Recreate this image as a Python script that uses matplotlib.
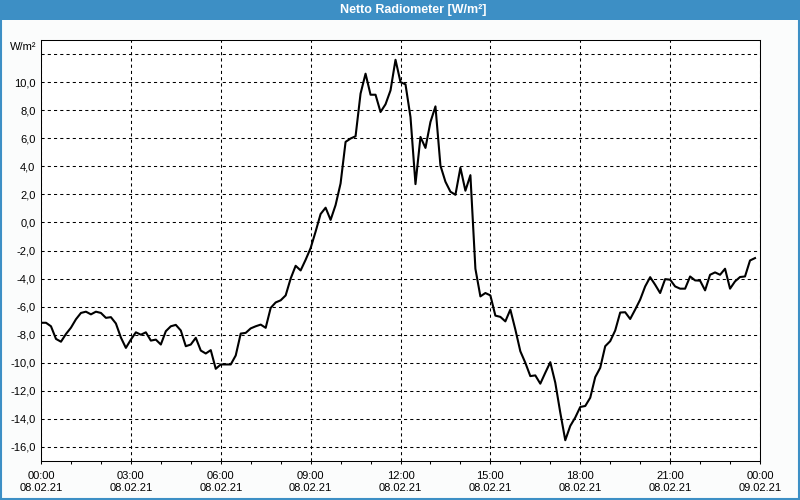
import pandas as pd
import matplotlib
matplotlib.use("Agg")
import matplotlib.pyplot as plt
import matplotlib.dates as mdates
import matplotlib.ticker as mticker
from matplotlib.patches import Rectangle

# =============================================================================
#  Données (lecture du graphique, pas de 10 min)
# =============================================================================

TITLE = "Netto Radiometer [W/m²]"
UNIT = "W/m²"
START = "2021-02-08 00:00"
END = "2021-02-09 00:00"
STEP = "10min"

VALUES = [
    -7.15, -7.15, -7.4, -8.3, -8.5, -7.95, -7.5, -6.9, -6.45, -6.36,
    -6.55, -6.36, -6.45, -6.8, -6.75, -7.2, -8.2, -8.94, -8.35, -7.83,
    -8.0, -7.83, -8.42, -8.35, -8.7, -7.75, -7.4, -7.3, -7.7, -8.82,
    -8.7, -8.22, -9.13, -9.34, -9.1, -10.43, -10.12, -10.12, -10.12, -9.48,
    -7.92, -7.87, -7.55, -7.4, -7.28, -7.51, -6.09, -5.7, -5.55, -5.2,
    -4.0, -3.09, -3.42, -2.66, -1.83, -0.65, 0.6, 1.05, 0.18, 1.24,
    2.78, 5.74, 5.98, 6.14, 9.18, 10.6, 9.1, 9.1, 7.87, 8.42,
    9.41, 11.59, 10.0, 9.84, 7.51, 2.73, 6.09, 5.31, 7.16, 8.27,
    4.05, 2.9, 2.19, 1.97, 3.9, 2.26, 3.37, -3.3, -5.27, -5.03,
    -5.2, -6.64, -6.73, -7.05, -6.21, -7.63, -9.18, -10.0, -10.95, -10.9,
    -11.49, -10.71, -9.96, -11.42, -13.55, -15.52, -14.5, -13.9, -13.15, -13.08,
    -12.49, -11.02, -10.36, -8.82, -8.46, -7.7, -6.42, -6.4, -6.88, -6.21,
    -5.5, -4.56, -3.9, -4.44, -5.03, -4.04, -4.08, -4.56, -4.72, -4.72,
    -3.85, -4.13, -4.15, -4.84, -3.73, -3.56, -3.73, -3.3, -4.72, -4.2,
    -3.89, -3.85, -2.71, -2.54,
]

YTICKS = list(range(-16, 13, 2))

BLUE = "#3d8fc5"

# =============================================================================
#  Figure
# =============================================================================

times = pd.date_range(START, periods=len(VALUES), freq=STEP)

plt.rcParams["font.family"] = ["Liberation Sans", "DejaVu Sans"]

fig = plt.figure(figsize=(8, 5), dpi=100, facecolor="#fbfcfc")

# barre de titre + cadre
fig.patches.append(Rectangle((0, 480 / 500), 1, 20 / 500, transform=fig.transFigure,
                             facecolor=BLUE, edgecolor="none", zorder=0))
fig.patches.append(Rectangle((0.75 / 800, 0.75 / 500), 798.5 / 800, 498.5 / 500,
                             transform=fig.transFigure, fill=False,
                             edgecolor=BLUE, linewidth=1.5, zorder=1))
fig.text(413.5 / 800, 1 - 10 / 500, TITLE, color="white", fontweight="bold",
         fontsize=9, ha="center", va="center")

ax = fig.add_axes([41 / 800, 39 / 500, 719 / 800, 421 / 500])
ax.set_facecolor("white")
ax.plot(times, VALUES, color="black", linewidth=1.5)

ax.set_xlim(pd.Timestamp(START), pd.Timestamp(END))
ax.set_ylim(-17, 13)

ax.xaxis.set_major_locator(mdates.HourLocator(byhour=range(0, 24, 3)))
ax.xaxis.set_minor_locator(mdates.HourLocator())
ax.xaxis.set_major_formatter(mdates.DateFormatter("%H:%M\n%d.%m.%y"))

ax.yaxis.set_major_locator(mticker.FixedLocator(YTICKS))
ax.yaxis.set_major_formatter(mticker.FuncFormatter(
    lambda v, p: "" if v > 11 else f"{v:.1f}".replace(".", ",")))

ax.grid(True, which="major", color="black", linestyle=(0, (3, 3)), linewidth=0.75)
for s in ax.spines.values():
    s.set_linewidth(0.75)
    s.set_color("black")

ax.tick_params(axis="y", length=0, pad=4, labelsize=8)
ax.tick_params(axis="x", which="both", length=2.5, width=0.75, direction="out",
               pad=5, labelsize=8)

fig.text(36 / 800, 1 - 46.5 / 500, UNIT, ha="right", va="center", fontsize=8)

fig.savefig("out.png", dpi=100, facecolor=fig.get_facecolor())
